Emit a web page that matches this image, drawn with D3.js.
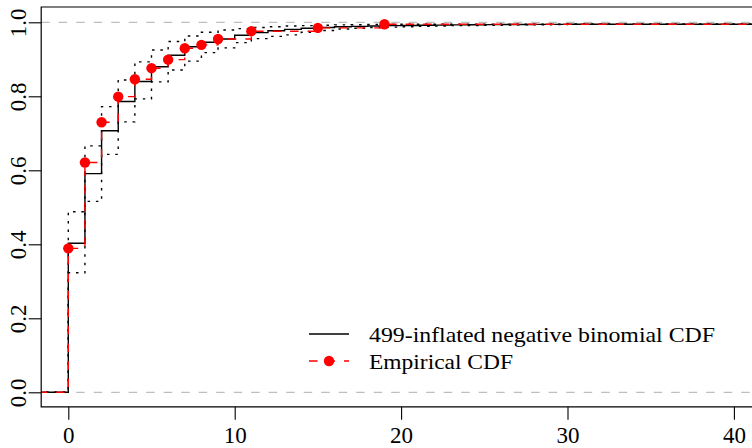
<!DOCTYPE html>
<html><head><meta charset="utf-8">
<script src="https://cdn.jsdelivr.net/npm/d3@7"></script>
</head><body style="margin:0">
<svg id="chart" width="752" height="448"></svg>
<script>
// ---------------- data ----------------
const xTicks = [0, 10, 20, 30, 40];
const yTicks = [0, 0.2, 0.4, 0.6, 0.8, 1.0];
const yTickLabels = ["0.0", "0.2", "0.4", "0.6", "0.8", "1.0"];

// empirical CDF jumps
const ecdfX = [0, 1, 2, 3, 4, 5, 6, 7, 8, 9, 11, 15, 19];
const ecdfY = [0.389, 0.621, 0.730, 0.799, 0.846, 0.876, 0.899, 0.930, 0.939, 0.955, 0.976, 0.985, 0.9946];

// fitted 499-inflated negative binomial CDF and its envelope
const modelX = [0, 1, 2, 3, 4, 5, 6, 7, 8, 9, 10, 11, 12, 13, 14, 15, 16, 17, 18, 19, 20,
                21, 22, 23, 24, 25, 26, 27, 28, 29, 30];
const modelY = [0.403, 0.591, 0.707, 0.786, 0.840, 0.880, 0.911, 0.934, 0.946, 0.955, 0.965,
                0.972, 0.977, 0.981, 0.984, 0.986, 0.988, 0.989, 0.990, 0.991, 0.9915,
                0.992, 0.9925, 0.993, 0.9933, 0.9936, 0.9939, 0.9941, 0.9943, 0.9945, 0.9946];
const upperY = [0.488, 0.666, 0.772, 0.844, 0.893, 0.925, 0.948, 0.963, 0.973, 0.979, 0.983,
                0.986, 0.988, 0.990, 0.991, 0.992, 0.993, 0.9935, 0.994, 0.9943, 0.9946,
                0.9946, 0.9946, 0.9946, 0.9946, 0.9946, 0.9946, 0.9946, 0.9946, 0.9946, 0.9946];
const lowerY = [0.323, 0.516, 0.643, 0.731, 0.793, 0.839, 0.871, 0.895, 0.918, 0.931, 0.945,
                0.956, 0.962, 0.966, 0.973, 0.978, 0.982, 0.984, 0.986, 0.987, 0.988,
                0.989, 0.990, 0.991, 0.9915, 0.992, 0.9925, 0.993, 0.9935, 0.994, 0.9946];

const legendLabels = ["499-inflated negative binomial CDF", "Empirical CDF"];

// ---------------- layout ----------------
const FONT = "Tinos, serif";
const svg = d3.select("#chart");
const x = d3.scaleLinear().domain([0, 40]).range([68.3, 733.9]);
const y = d3.scaleLinear().domain([0, 1]).range([392.3, 22.3]);
const plot = { left: 41.2, top: 7, right: 800, bottom: 406.8 };
const xMin = x.invert(plot.left - 20), xMax = x.invert(plot.right);

svg.append("defs").append("clipPath").attr("id", "clip")
  .append("rect")
  .attr("x", plot.left).attr("y", plot.top)
  .attr("width", plot.right - plot.left).attr("height", plot.bottom - plot.top);

const g = svg.append("g").attr("clip-path", "url(#clip)");

// reference lines at 0 and 1
g.selectAll("line.ref").data([0, 1]).enter().append("line")
  .attr("class", "ref")
  .attr("x1", plot.left).attr("x2", plot.right)
  .attr("y1", d => y(d)).attr("y2", d => y(d))
  .attr("stroke", "#bebebe").attr("stroke-width", 1.2)
  .attr("stroke-dasharray", "8.5,9");

const step = d3.line().x(d => x(d[0])).y(d => y(d[1])).curve(d3.curveStepAfter);
function stepData(xs, ys) {
  const pts = [[xMin, 0]];
  xs.forEach((v, i) => pts.push([v, ys[i]]));
  pts.push([xMax, ys[ys.length - 1]]);
  return pts;
}

// model CDF
g.append("path").attr("d", step(stepData(modelX, modelY)))
  .attr("fill", "none").attr("stroke", "#000").attr("stroke-width", 1.4);
// envelope
[upperY, lowerY].forEach(arr => {
  g.append("path").attr("d", step(stepData(modelX, arr)))
    .attr("fill", "none").attr("stroke", "#000").attr("stroke-width", 1.4)
    .attr("stroke-dasharray", "2.5,5.8");
});
// empirical CDF
g.append("path").attr("d", step(stepData(ecdfX, ecdfY)))
  .attr("fill", "none").attr("stroke", "#ff0000").attr("stroke-width", 1.4)
  .attr("stroke-dasharray", "8.5,9");
g.selectAll("circle.pt").data(ecdfX.map((v, i) => [v, ecdfY[i]])).enter()
  .append("circle").attr("class", "pt")
  .attr("cx", d => x(d[0])).attr("cy", d => y(d[1])).attr("r", 5.2)
  .attr("fill", "#ff0000");

// box (left, top, bottom; right edge is beyond the window)
svg.append("path")
  .attr("d", `M${plot.right},${plot.top}H${plot.left}V${plot.bottom}H${plot.right}`)
  .attr("fill", "none").attr("stroke", "#000").attr("stroke-width", 1.2);

// x axis
const xa = svg.append("g").attr("transform", `translate(0,${plot.bottom})`)
  .call(d3.axisBottom(x).tickValues(xTicks).tickSize(13).tickPadding(0).tickFormat(d3.format("d")));
xa.attr("font-family", FONT).attr("font-size", 23);
xa.select(".domain").remove();
xa.selectAll("line").attr("stroke", "#000").attr("stroke-width", 1.1);
xa.selectAll("text").attr("y", 36).attr("dy", 0)
  .attr("font-family", FONT).attr("font-size", 23);

// y axis
const ya = svg.append("g").attr("transform", `translate(${plot.left},0)`)
  .call(d3.axisLeft(y).tickValues(yTicks).tickSize(12.5).tickFormat((d, i) => yTickLabels[i]));
ya.attr("font-family", FONT).attr("font-size", 23);
ya.select(".domain").remove();
ya.selectAll("line").attr("stroke", "#000").attr("stroke-width", 1.1);
ya.selectAll("text")
  .attr("x", 0).attr("dy", 0).attr("text-anchor", "middle")
  .attr("transform", "translate(-15.5,0) rotate(-90)")
  .attr("font-family", FONT).attr("font-size", 23);

// legend
const lg = svg.append("g").attr("font-family", FONT);
lg.append("line").attr("x1", 309).attr("x2", 349).attr("y1", 334).attr("y2", 334)
  .attr("stroke", "#000").attr("stroke-width", 1.4);
lg.append("line").attr("x1", 309).attr("x2", 349).attr("y1", 361).attr("y2", 361)
  .attr("stroke", "#ff0000").attr("stroke-width", 1.4).attr("stroke-dasharray", "8.5,9");
lg.append("circle").attr("cx", 329).attr("cy", 361).attr("r", 5.2).attr("fill", "#ff0000");
const legW = [346, 144];
legendLabels.forEach((t, i) => {
  lg.append("text").attr("x", 369).attr("y", 342 + i * 26.5)
    .attr("font-family", FONT).attr("font-size", 21)
    .attr("textLength", legW[i]).attr("lengthAdjust", "spacingAndGlyphs")
    .text(t);
});
</script>
</body>
</html>
